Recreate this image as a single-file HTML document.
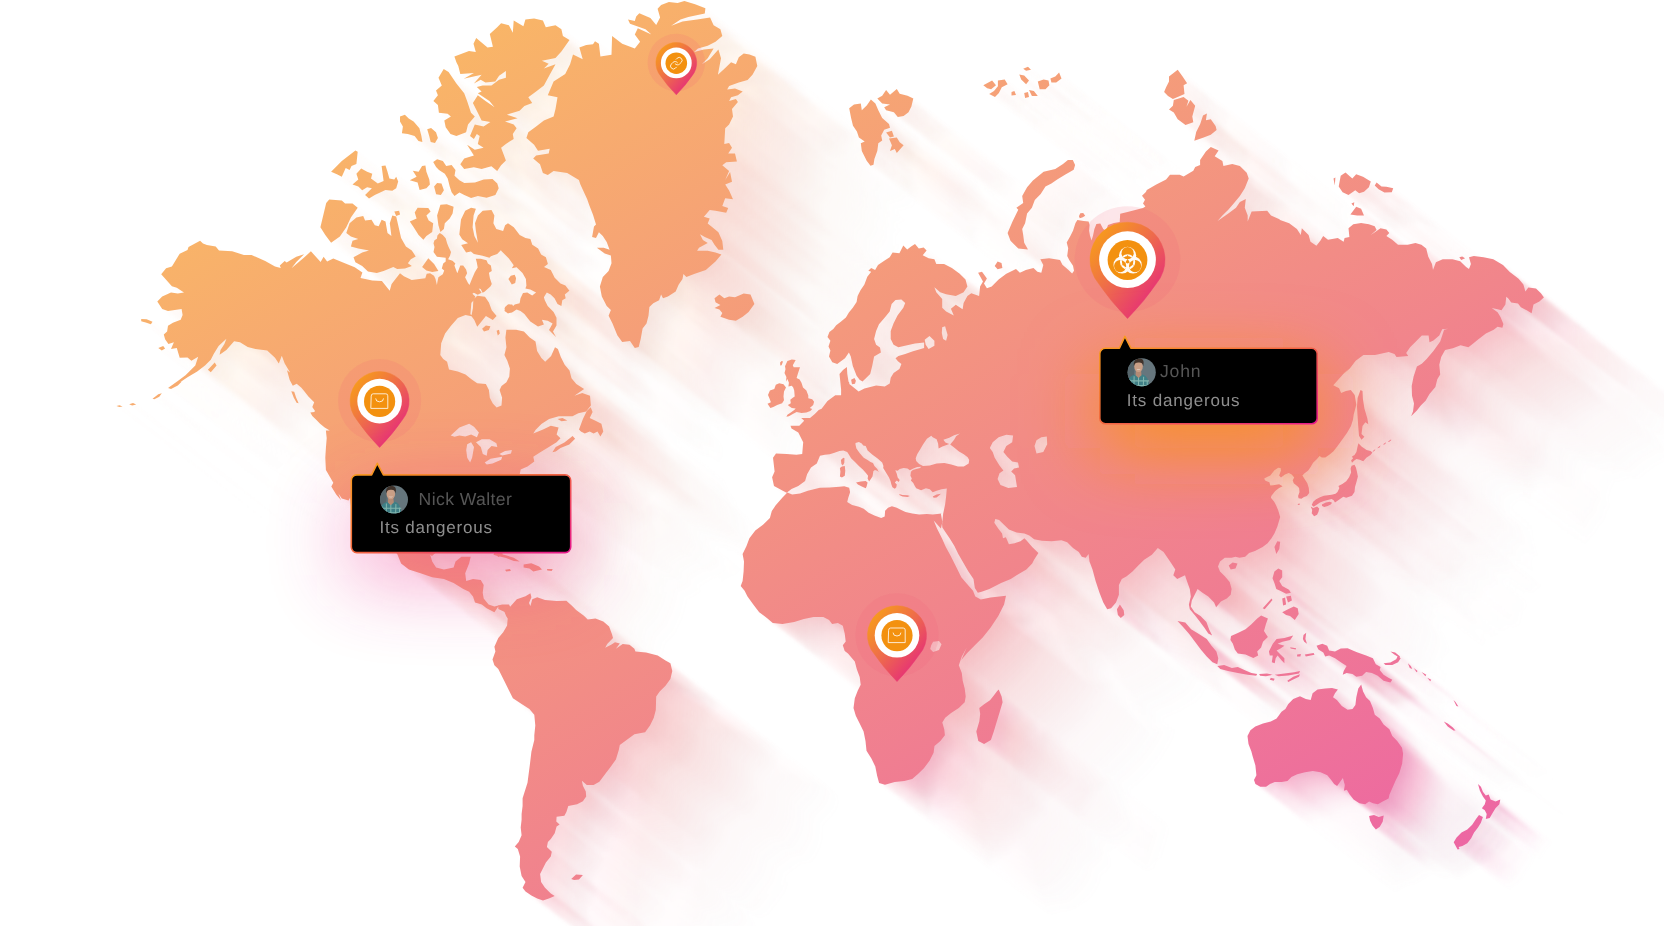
<!DOCTYPE html>
<html><head><meta charset="utf-8"><title>Map</title>
<style>
html,body{margin:0;padding:0;background:#fff;}
body{width:1664px;height:926px;overflow:hidden;position:relative;font-family:"Liberation Sans",sans-serif;}
svg{position:absolute;left:0;top:0;}
</style></head><body>
<svg width="1664" height="926" viewBox="0 0 1664 926">
<defs>
<linearGradient id="mg" gradientUnits="userSpaceOnUse" x1="122.7" y1="210.4" x2="775.4" y2="1329">
<stop offset="0" stop-color="#f9b766"/><stop offset="0.5" stop-color="#f28c86"/><stop offset="1" stop-color="#ec62a6"/>
</linearGradient>
<filter id="sb" x="0" y="0" width="1664" height="926" filterUnits="userSpaceOnUse"><feGaussianBlur stdDeviation="1.5"/></filter>
<linearGradient id="pg" x1="0.12" y1="0.1" x2="0.8" y2="0.85">
<stop offset="0" stop-color="#f79b1c"/><stop offset="0.5" stop-color="#ee6a4c"/><stop offset="1" stop-color="#e62f78"/>
</linearGradient>
<linearGradient id="tg" x1="0" y1="0" x2="1" y2="1">
<stop offset="0" stop-color="#f9a11b"/><stop offset="0.5" stop-color="#f2673f"/><stop offset="1" stop-color="#e6178c"/>
</linearGradient>
<filter id="g1" x="-100%" y="-300%" width="300%" height="700%"><feGaussianBlur stdDeviation="42"/></filter>
<filter id="g2" x="-100%" y="-300%" width="300%" height="700%"><feGaussianBlur stdDeviation="38"/></filter>
<clipPath id="av1"><circle cx="394.0" cy="499.6" r="14.0"/></clipPath>
<clipPath id="av2"><circle cx="1141.7" cy="372.3" r="14.1"/></clipPath>
<g id="avatar">
<rect x="-15" y="-15" width="30" height="30" fill="#66767d"/>
<path d="M-15,-15H-6L-9,15H-15Z" fill="#56666c"/>
<g transform="translate(0.3,2.2) scale(1.16)">
<path d="M-14.5,15C-14,5 -10.5,1 -6,0L0.5,0C5,1.5 6.5,6 6,15Z" fill="#3f7f86"/>
<path d="M-11,15L-10.5,4M-7,15L-6.8,1.5M-3,15L-3,1M1,15L1.4,2M4.5,15L4.5,5M-14,5.5H6M-14.5,9.5H6.3M-14.5,13.2H6" stroke="#a5d3c3" stroke-width="0.9" opacity="0.65"/>
<path d="M-5.2,-3.5L-0.8,-3.5L-0.4,0.6L-3,3L-5.6,0.6Z" fill="#b48a74"/>
<ellipse cx="-3" cy="-6.8" rx="3.7" ry="4.7" fill="#c99f86"/>
<path d="M-7,-7.4C-7.8,-12.6 -4,-14.2 -1.8,-13.7C1.4,-13.6 1.9,-10.8 1.1,-7.2C0.7,-9.8 -0.6,-10.6 -3.2,-10.4C-5.4,-10.4 -6.4,-9.4 -7,-7.4Z" fill="#40322a"/>
<path d="M-4.9,-4.6Q-3,-3.1 -1.1,-4.6Q-3,-4 -4.9,-4.6Z" fill="#f4ece6"/>
</g>
</g>
<linearGradient id="sgB" gradientUnits="userSpaceOnUse" x1="122.7" y1="210.4" x2="775.4" y2="1329">
<stop offset="0" stop-color="#f7a366" stop-opacity="0.85"/><stop offset="0.5" stop-color="#f0777c" stop-opacity="0.97"/><stop offset="0.65" stop-color="#ee6d87" stop-opacity="1"/><stop offset="0.9" stop-color="#eb5b9a" stop-opacity="0.2"/><stop offset="1" stop-color="#ea54a2" stop-opacity="0.05"/>
</linearGradient>
<linearGradient id="sgA" gradientUnits="userSpaceOnUse" x1="122.7" y1="210.4" x2="775.4" y2="1329">
<stop offset="0" stop-color="#f7a366" stop-opacity="0"/><stop offset="0.3" stop-color="#f3897a" stop-opacity="0.1"/><stop offset="0.5" stop-color="#f0777c" stop-opacity="0.27"/><stop offset="0.62" stop-color="#ee6f85" stop-opacity="0.39"/><stop offset="0.88" stop-color="#eb5c99" stop-opacity="1"/><stop offset="1" stop-color="#ea54a2" stop-opacity="1"/>
</linearGradient>
<path id="land" d="M481.6,74.8 473.9,83.6 480.7,79.7 485.5,82.6 495.3,81.6 499.1,75.8 505.9,71 505.9,77.8 499.1,79.7 491.4,85.5 482.6,85.5 476.8,87.1 481.6,91.4 477.8,93.3 489.4,101.1 494.3,106.9 485.5,101.1 477.8,95.3 472.9,103 477.8,112.8 481.6,120.5 490.4,122.1 483.6,126.4 474.8,124.4 470,136.1 473.9,139 476.8,134.1 479.7,136.1 477.8,143.9 483.6,147.7 474.8,149.7 467.1,144.8 473.9,155.5 464.2,158.4 460.3,164.3 464.2,169.1 473.9,167.2 481.6,169.1 491.4,166.2 497.2,171.1 501.1,165.2 505.9,160.4 501.1,147.7 505.9,143.9 513.7,139 512.8,134.1 516.6,128.3 513.7,124.4 505,121.5 517.6,118.2 506.9,114.7 519.6,110.8 524.4,105.9 532.2,103 528.3,97.2 536.1,91.4 543.9,85.5 549.7,74.8 555.5,64.2 543.9,68.4 548.7,63.8 541.9,60.7 555.5,57.9 561.4,51.5 569.5,39.9 562.9,36 561.4,29.2 555.5,25.3 545.8,27.2 542.9,20.4 534.1,18.5 525.4,19.4 523.4,26.2 513.7,20.4 512.8,32.7 508.9,25.3 501.1,23.3 497.2,27.2 489.8,34 492.9,46.7 487.5,47.6 476.2,37.9 473.5,43.7 475.8,52.1 469,50.9 454.4,56.4 456.4,62.2 458.3,66.1 460.3,73.9 473.9,72.9 463.8,78.7 468,77.8ZM447.6,113.7 450.9,116.6 444.3,120.5 445.7,127.3 450.5,134.1 456.4,136.1 466.1,132.2 468,124.4 474.8,116.6 471,112.8 467.1,101.1 464.2,93.3 456.4,83.6 448.6,71.9 443.7,69 438.5,77.8 441.8,85.5 436,90.4 437.9,95.3 433.4,101.1 437.9,105 438.9,112.8ZM421.4,136.1 419.4,128.3 413.6,121.5 408.7,118.6 404.9,114.7 400,116.6 400,121.5 402.9,126.4 401.9,133.2 407.8,134.1 414.6,136.1 418.5,140.9 422.4,141.9ZM429.2,136.1 430.7,141.9 435,142.9 437.9,138 436,132.2 431.1,127.9 427.2,129.3ZM355.4,150.4 341.8,161.1 331.1,171.8 336.9,174.3 341.8,176.7 345.7,167.9 349.6,169.9 351.5,166 356.4,164 357.7,151.8ZM422.1,166 418.6,171.8 412.8,170.8 416.6,176.7 409.8,180.2 417.6,182.5 419.6,189.9 426.4,188.3 429.9,184.4 429.3,179.6 426.4,171.8 425.4,165.4ZM459.4,192.6 464.3,195.1 471.1,198 477.9,196.1 486.6,197.7 495.4,195.1 498.7,188.3 497.3,183.5 492.5,179 483.7,179.6 475,182.5 464.3,182.9 459.4,180.2 454.5,175.7 455.5,169.9 451.6,165 446.2,166 442.9,161.1 437.1,159.2 433.2,162.1 436.1,166.9 439,169.9 444.8,173.7 447.7,178.6 449.7,186.4 451.6,192.2 454.5,196.1ZM385.5,189.9 392.3,190.7 396.2,188.3 398.2,181.5 396.2,176.7 394.3,179.6 389.4,178.6 387.5,171.8 385.5,165.4 381.6,166 383.6,180.9 377.8,183.5 371,178.6 372.3,173.7 367.1,171.8 361.2,168.5 356.4,173.7 358.3,179.6 352.5,184.4 358.3,186.4 362.2,190.3 367.1,187.3 371.9,188.3 365.1,195.1 369,198.4 374.8,195.1ZM440.9,195.1 443.9,190.3 441.5,183.5 437.1,182.9 434.1,186.4 436.1,194.2ZM394.3,211.6 396.2,215.9 400.1,214.6 399.1,210.7ZM446.8,204.3 440.4,204.8 437.1,215.5 438.4,225.3 440.4,232.1 443.9,229.1 444.8,223.3 449.7,218.5 452.6,213.6 453.6,206.8ZM345.1,203.5 341.8,200.4 329.2,199.6 326.2,202.9 320.4,227.2 325.3,235 331.1,242.8 339.9,236.5 346.3,227.2 350.9,217.5 357.7,207.8 352.5,203.5ZM426.4,215.5 430.6,211.6 428.3,208.1 417.6,207.8 414.7,212.6 416.6,218.5 409.8,221.4 413.7,227.2 418.6,235 423.4,239.8 426.4,235.9 432.2,232.1 433.2,223.3 428.7,220.4ZM353.5,257.3 355.4,262.2 362.2,266.1 368,271.5 376.8,272.9 383.6,270.9 393.3,267.1 397.2,269 405,268.4 411.8,266.1 407.9,263.2 410.8,259.3 415.7,256.4 411.8,250.5 405.9,246.6 401.1,237.9 398.2,225.3 396.2,216.5 392.3,215.5 389.8,223.3 391.4,235.9 387.5,233 385.5,221.4 381.6,219.8 378.7,226.2 374.8,225.3 371.5,219.8 365.1,220.4 363.2,215.9 356.4,217.5 349.6,223.3 346.3,233 350.9,236.5 358.3,238.9 352.5,240.8 350.9,246.6 358.3,248.6 369,250.5 362.2,252.5ZM432.2,271.9 438.4,270.9 434.1,264.1 428.3,258.3 422.1,267.1 426.4,270.4ZM511.8,284.5 515.2,283 516.1,278.2 514.7,274.8 510.8,275.7 508.4,279.1ZM504.9,307.7 504.4,308.3 504.8,308.9 504.5,310.9 507.1,312.8 507.3,313.2 507.6,313.1 507.9,313.4 509.3,312.9 512.2,312.6 512.5,312 512.8,311.9 516.6,309.5 520.5,310.9 524.4,313.9 527.3,317.7 530.3,321.6 538,326.5 543.9,324.5 541.9,319.7 547.7,320.7 552.6,323.6 549,330 556,337 553,331.6 556.5,325.5 556.5,317.7 553.6,311.9 547.7,306.1 544.8,300.3 543.9,297.3 546.8,292.5 550.7,294.4 554.5,298.3 557.5,304.1 561.4,306.1 562.3,300.3 565.7,298.3 564.8,294.4 569.6,290.5 569.2,290.4 565.4,285.5 560.5,283.6 554.7,277.7 550.8,270 544,267.1 547.9,264.1 545.9,257.3 541.1,254.4 538.1,248.6 532.3,244.7 530.4,238.9 525.5,237.9 519.7,235 513.8,227.2 508,223.3 505.1,225.3 503.1,231.1 496.3,229.1 493.4,223.3 494.4,215.5 491.5,210.1 482.7,210.7 477.9,215.5 475,223.3 475.9,231.1 477.9,242.8 474.4,235.9 472.6,227.2 473.6,215.5 475.9,208.7 471.1,207.8 465.2,210.7 461,219.4 461,219.4 459.3,234.4 462.2,239.3 468,243.2 461.2,245.1 466.1,252.4 470.9,251.4 473.9,253.9 482.6,255.8 489.4,257.8 490.9,256.3 497.2,253.9 501.1,250 501.1,250.7 508.9,258.5 513.7,265.3 511.8,268.2 516.6,267.2 522.5,273 525.9,278.9 526.4,285.7 525.4,288.6 530.3,289.6 536.1,292.5 532.2,295.4 527.3,292.5 523,293 520.5,298.3 519.6,303.2 514.7,304.6 513.1,305.9 512.2,304.4 509.8,304.6 508.9,304.1 508,304.8 507.3,304.8 506.3,306.1 505,307.1ZM496.6,316.1 491.8,310.3 488.9,302.5 485,296.7 477.2,295.7 474.4,298.5 475.3,296.6 472.4,293.7 473.9,292.7 477.7,294.7 481.6,292.7 478.7,288.4 480.7,288.9 482.6,292.7 484.5,291.8 490.4,286.4 491.8,284 489.9,278.2 488.9,272.8 491.8,270.9 490.9,265.5 487.9,263.6 486.5,260.2 480.7,258.7 475.8,258.7 476.8,262.6 477.7,267.5 474.8,272.3 471.9,279.1 469.5,285 468,283 465.1,277.2 467.1,273.3 466.1,269.4 463.2,265.5 460.3,265.5 457.3,273.3 454.4,265.5 455.4,263.6 452.5,260.7 448.1,259.2 450,255.8 451,251.9 448.6,247.1 447.1,243.2 445.7,238.3 442.8,234.9 439.8,233 437.4,235.4 436.9,238.8 434.5,240.3 433.5,243.2 434.5,247.1 433.5,251.9 436.9,256.8 445.7,257.8 445.7,261.6 443.2,263.6 441.8,268.4 444.2,270.4 442.8,274.3 438.4,277.2 437.4,282.1 436.9,285 435.5,279.1 434,275.7 430.1,273.3 426.7,273.8 425.3,278.2 419.4,279.1 411.7,280.1 403.9,276.2 400,273.3 391.6,283.9 389.7,290.7 381.9,281 372.2,280.4 360.5,278 362.4,272.6 354.7,267.3 343,262.5 333.3,258.6 327.1,261.5 323.6,256.7 320.6,262.1 310.9,251.2 304.1,257.6 291.5,268.3 296.3,262.1 304.1,254.3 296.3,256.7 286.6,262.5 284.7,260.9 279.8,265.4 280.8,267.9 275,266.4 265.2,260.9 251.6,255.1 243.9,255.1 232.2,251.2 219,250.4 215.7,246.5 206.9,245 203,243.4 200.1,240.7 188.5,246.9 187.5,249.9 179.7,253.7 171.9,266.4 166.1,268.3 161.2,274.2 171.9,286.2 176.8,287.8 184,292.6 177.8,293.6 171,292.6 162.2,296.5 157.3,301.4 162.2,309.1 168,311.1 181.6,309.1 182.6,315 180.7,319.8 172.9,322.8 168,325.7 167.1,331.5 163.8,334.4 165.1,339.3 168.4,344.1 173.9,342.2 171,349 176.8,348 179.7,357.7 187.5,357.4 191.4,360.7 198.2,356.8 195.3,365.5 185.5,375.2 177.8,381.1 168,387.9 168.1,387.9 168,387.9 171,389.1 177.8,385.6 181.6,381.7 180.5,382 187.5,377.2 197.2,371.4 205,365.5 210.8,359.7 213.7,353.9 218.6,346.1 226.4,338.7 224.4,344.1 220.5,350 219.6,354.8 226.4,350 234.1,341.2 240,342.2 247.7,347.1 255.5,349 267.2,350.4 275,357.7 278.8,363.6 281.8,355.8 284.7,363.6 289.5,371.4 290.1,372.5 287,370.2 289.7,379.9 292.8,385.7 296.7,383.8 301.4,387.7 304.5,391.6 308.4,396.4 314.2,402.3 312.3,407.1 315,411 314.2,412 310.3,412.6 312.3,415.9 316.2,419.8 320.1,423.7 324.7,427.5 329.8,430.5 325.9,430.5 326.7,438.2 325.9,448 325.3,457.7 325.9,469.9 333.3,482.8 331.3,486.6 336.2,494.4 341.1,500.2 338.4,493.4 341.8,498.5 348.6,500.4 350.2,497.5 352,516 362,531 374,543 378,541 373,531 366,516 358,501 352,489 356,489 363,501 373,521 386,541 397.2,553.9 401.1,563.6 408.9,569.4 420.5,573.3 432.2,577.2 443.9,579.1 453.6,583 463.3,588.9 469.1,591.8 473,596.6 475,602.5 481.8,604.4 486.6,608.3 494.4,612.2 498.3,606.4 498.3,606.4 498.3,608.9 504.2,611.8 504.6,612.3 506.1,616.1 507.7,618.6 507.1,625.4 503.2,632.2 498.3,638 494.4,646.8 495.4,651.6 492.5,659.4 494.4,665.3 498.3,669.1 504.2,680.8 509,690.5 512.9,698.3 521.6,704.1 529.4,709 534.3,714.8 535.3,725.5 534.3,735.2 534.3,740 531.4,751.7 529.8,765.3 527.5,782.8 522.6,798.3 522.6,806.1 521.6,813.9 521.6,819.7 520.7,827.5 521.6,835.3 518.7,842.1 514.8,846.5 517.8,848.9 520.1,856.6 519.7,866.4 521.6,876.1 525.5,881.9 522.6,887.7 525.5,891.6 531.4,895.5 537.2,898.4 543,900.4 548.9,898.4 554.7,895.9 550.8,893.6 545,887.7 541.1,881.9 540.1,874.1 543,868.3 545.9,862.5 550.8,856.6 551.8,851.8 546.9,846.9 547.9,842.1 550.8,839.1 554.7,833.3 556.6,826.5 559.6,824.6 556.3,821.6 556.6,816.8 564.4,815.8 566.4,811.9 568.3,806.1 577.1,804.2 582.9,801.2 586.2,796.4 585.8,791.5 582.9,785.7 581.9,780.8 586.8,785.1 593.6,785.1 599.4,781.8 605.2,774 611.1,766.2 615.9,759.4 618.8,749.9 619.8,745 626.6,740.1 634.4,734.3 645.1,732.3 650,725.5 653.8,717.7 655.8,710 656.2,696.4 659.7,691.5 665.5,685.7 670.4,678.9 672.3,671.1 670.4,663.3 665.5,660.4 657.7,655.5 646.1,652.6 635.4,651.6 634.4,648.7 629.5,644.8 622.7,643.9 615.9,648.7 619.8,643.5 615,642.3 611.1,644.8 605.2,647.8 607.2,643.9 613,638 612,634.2 609.1,626.4 603.3,621.5 595.5,618.6 587.7,619.6 583.9,615.7 576.1,609.9 572.2,606 566.4,600.7 556.6,601.1 545,600.1 537.2,597.2 532.3,599.2 530.4,606 529,603 531.4,597.2 530.4,593.3 525.5,596.2 516.8,599.2 510.1,606.7 509,604.4 502.2,604.4 499,605.2 498.3,605 498.3,605.4 494.4,606.4 488.6,604.4 483.7,598.6 482.7,592.8 483.7,585 480.8,580.1 473,579.1 466.2,581.1 465.2,573.3 469.1,563.6 470.7,556.8 461.4,556.8 455.5,561.6 453.6,567.5 443.9,569.4 436.1,567.5 432.2,561.6 430.2,554.8 432,556 441,548 455,540 470,537 485,535 492,541 496.6,553.3 494.4,552.9 493.4,554.8 497.6,556 498,557 499.9,556.6 506.1,558.1 513.8,561.1 519.7,561.6 513.8,557.8 504.1,554.8 502.7,554.6 500,543 495,528 499,514 509,503 516,488 519.7,474.3 520.7,469.4 527.5,466.5 534.3,461.6 533.3,456.8 539.1,452.9 548.9,447.1 556.6,442.2 560.5,438.3 556.6,434.4 558.6,427.6 550.8,425.7 543,429.6 533.3,433.5 535.5,430 541.4,424 549.1,419.1 558.8,416.2 572.5,416.2 578.3,413.3 586.1,411.4 590.9,405.5 590,395.8 582.2,392.9 574.4,395.8 584.1,389 576.3,384.1 571.5,378.3 569.5,370.5 564.7,364.7 560.8,356.9 557.9,349.1 555,347.2 551.1,355.9 545.2,361.8 541.4,357.9 537.1,351.1 535.5,341.4 529.7,337.5 523.9,331.6 516.1,329.7 506.4,329.7 505.4,337.5 506.4,347.2 504.4,355 507.3,360.8 509.9,368.6 509.3,376.4 506.4,382.2 501.5,386.1 499.6,390 502.1,397.7 501.5,405.5 496.6,407.5 492.8,403.6 489.8,397.7 488.9,390 485.9,384.1 477.2,383.2 471.4,379.3 465.5,374.4 457.8,371.5 449,369.6 447.1,361.8 443.2,358.9 440.3,355 441.2,343.3 445.1,333.6 451,325.8 457.8,318 465.5,315.1 471.5,316.3 474.3,320 477.2,326.8 481.1,321.9 485.9,316.1 492.8,320ZM471.9,302.5 473.3,300.4 472.9,308.3 471.6,314.9 470.4,314.2 471.4,302.5ZM459.4,435.4 454.6,436.8 450.7,435.4 459.4,427.6 469.2,423.7 474,426.7 478.9,432.5 476.9,437.3 471.1,434.4 465.3,436.4ZM482.8,453.9 480.8,447.1 476,442.2 481.8,439.3 489.6,439.3 496.4,443.2 497.3,447.1 491.5,446.1 487.6,450 486.7,455.8ZM470.1,462.6 467.2,457.8 466.2,450 467.2,444.2 471.1,442.2 474,447.1 472.1,457.8ZM511.9,450 511,453.5 502.2,455.4 499.3,453.9 505.1,451ZM492.5,463.6 486.7,464.6 484.7,462.6 490.5,458.7 502.2,456.8 501.2,459.7ZM145.7,322.4 150.9,324.3 152.5,321.8 146.7,319.3 141.2,318.9 141.2,321.2ZM490.4,326.2 485.9,325.4 482.1,328.7 484,331.6 488.9,330.1ZM496.6,330.7 497.8,335.5 499.8,333.6 499,329.7ZM158.3,348 161.8,350.4 165.1,348.4 163.2,346.1ZM207.9,369.8 210.8,372.3 216.6,365.5 214.7,362.6ZM161.8,393.3 158.3,394.3 152.5,398.8 154.4,399.2 159.3,396.8ZM296.6,402.8 298.6,403.3 296.1,397.5 294.2,391.7 291.3,391.2 293.7,397.5ZM129.2,404.2 132.1,405.4 136.2,404.6 133,403ZM116.5,406 119.4,407.1 122.6,406.4 119.4,405.2ZM510,569 505.1,569.8 506.1,571.4 510.9,571ZM1029,80.4 1024.2,75.6 1019.3,74.6 1021.2,79.4 1026.1,84.3ZM996,85.3 992.1,80.4 983.3,85.3 987.2,88.2 991.1,89.2ZM1004.7,79.4 997.9,80.4 997.9,86.2 994,91.1 989.2,94 995,96.9 998.9,93 1001.8,87.2 1007.6,84.3ZM1011.5,92.1 1011.5,95.4 1016,95 1014.4,91.1ZM908.5,112.2 911.4,106.4 913.3,98.6 907.5,95.7 899.7,93.7 896.8,88.9 890,94.7 886.1,89.9 882.2,95.7 877.3,98.6 882.2,103.5 890,104.4 884.2,107.3 886.1,110.3 893.9,112.2 897.8,117.1 903.6,116.1ZM866.7,160.8 870.5,165.7 873.5,164.7 874.4,158.9 877.3,151.1 878.3,143.3 882.2,140.4 881.2,135.5 884.2,129.7 890,127.8 889,123.9 882.2,118 878.3,110.3 875.4,103.5 870.9,99.6 866.7,105.4 861.8,110.3 860.8,103.5 854,104.4 849.2,108.3 851.1,118 853,125.8 856.9,131.6 858.9,137.5 864.7,141.4 860.8,143.3 861.8,151.1ZM886.1,132.6 890,137.5 893.9,136.5 891.9,130.7ZM889,138.5 891.9,145.3 890,151.1 894.8,149.1 896.8,153 903.6,145.3 899.7,142.3 896.8,137.5ZM555.5,108.9 553.6,116.6 543.9,120.5 536.1,126.4 528.3,132.2 526.4,138 534.1,144.8 538,150.7 549.7,148.7 548.7,153.6 536.1,155.5 533.2,158.4 540,164.3 542.9,173 547.8,175 553.6,171.1 567.2,173 578.9,180 580.4,184.6 587.2,199.2 589.2,205 593,214.7 596,224.4 594,226.4 592.1,237.1 596,238 598.9,232.2 602.8,236.1 606.7,241.9 609.6,249.7 603.7,247.8 596.9,247.8 604.7,253.6 610.9,255.5 611.5,263.3 608.6,271.1 602.8,276.9 599.9,286.6 601.8,296.4 606.7,306.1 610.9,310 608.6,315.8 612.5,323.6 617.3,335.2 622.2,342 630,341.1 634.8,347.9 638.7,346.9 640.7,339.1 642.6,328.4 646.5,323.6 648.5,315.8 649.4,307.1 653.3,303.2 659.1,300.2 661.1,294.4 663,298.3 667.9,296.4 675.7,291.5 678.6,284.7 682.5,278.9 683.4,274 686.4,276.9 694.1,274 705.8,270.1 715.5,261.4 721.4,254.6 715.5,252.6 707.7,250.7 697.1,250.7 699,247.8 707.7,242.9 702.9,240 700,234.2 704.8,237.1 711.6,240 714.5,244.8 718.4,249.7 723.3,249.7 722.3,241 718.4,232.2 713.6,228.3 707.7,223.5 709.7,218.6 703.9,216.7 709.7,209.9 715.5,210.8 726.2,212.8 728.2,207.9 722.3,206 725.2,198.2 733,199.2 729.1,190.4 725.2,184.6 732,181.7 730.1,171.9 725.2,180 729.1,171.1 722.3,165.2 726.2,162.3 736.9,161.4 735,153.6 728.2,153.6 732,147.7 729.1,142.9 724.3,143.9 725.2,128.3 729.1,124.4 733,116.6 732,108.9 737.9,102.1 735.9,99.1 729.1,101.1 731.1,97.2 737.9,95.3 742.7,91.4 735,88.5 727.2,89.4 729.1,85.9 738.8,82.6 747.6,80.1 752.5,74.8 757.3,66.1 755.4,56.8 749.5,54.4 743.7,53.5 738.8,57.3 735.9,64.2 731.1,62.2 725.2,68 717.9,74.8 721,58.3 718.4,49.6 709.7,59.3 701.9,64.2 707.7,58.3 713.6,48.6 703.9,49.6 694.1,52.1 698,48.6 707.7,45.7 715.5,41.8 722.3,36 720.4,29.2 713.6,25.3 710.1,17.5 697.1,19.4 682.5,21.4 671.2,25.7 680.5,19.4 688.3,17.1 704.8,13.6 705.4,8.2 695.1,4.3 684.4,1 677.6,2.9 668.9,1.9 661.1,4.9 657.6,8.7 660.1,17.5 656.2,24.9 650.4,17.9 639.3,13.2 636.2,16.5 634.8,21 628,19.4 630,23.7 645.5,29.2 651.4,34.6 637.8,28.2 634.8,34.6 640.1,41.8 634.8,48.6 622.2,43.7 612.1,36 611.5,54.8 600.4,56.4 598.9,43.7 595,41.2 593,44.3 586.2,45.1 579.4,47.6 582.7,59.3 573,54.4 570.1,64.2 565.2,73.9 553.6,81.6 547.8,95.3 557.5,97.2ZM1001.5,263 997.6,261.5 994.7,266 997.6,269.3 1002.4,267.9ZM735.9,320.7 742.7,316.8 748.6,311.9 754.4,304.1 750.5,294.4 743.7,293.4 735,297.3 729.1,296.4 724.3,298.3 719.4,294.4 714.5,298.3 715.5,302.2 720.4,305.1 714.5,308 719.4,309.6 722.3,312.9 720.4,316.8 729.1,319.7ZM783,361.6 781.6,360.9 780.1,362.4 780.3,365.5 781.6,365.3ZM855.9,380.8 854.5,377.9 851.1,379.8 852,384.2 855,383.7ZM848.5,381.4 847.3,373.9 846.9,367.1 843,370 839.5,373.9 840.1,379.7 841.1,389.4 841.1,395.2 835.3,395.2 827.5,401.1 821.6,408.8 818.7,410.1 814.8,414 810,417.9 801.2,417.9 804.2,420.8 799.3,425.7 790.5,425.7 791.5,428.6 798.3,432.5 803.2,442.2 802.2,453.9 796.4,454.8 786.7,453.9 776,453.5 773,457.8 774.6,471.4 772.1,477.2 774,485.9 782.8,490.8 786.7,492.8 791.5,488.9 798.3,485.9 805.1,481.1 807.1,474.3 811,467.5 816.8,463.6 820,455.8 824.9,454.8 829.7,454.3 834.6,452.8 839.4,450.9 843.3,450.4 847.2,451.9 848.7,454.3 851.1,458.2 855,462.1 858.9,466 862.8,469.4 865.7,472.8 868.1,475.7 867.6,478.6 869.1,481.5 870.5,479.6 872.5,476.6 873,473.7 873.3,471.3 874.9,470 877.3,470.8 878.8,472.3 877.3,468.9 874.4,466 873,463 870.5,462.1 867.6,460.1 863.7,457.7 859.8,453.3 856.4,448.5 855.5,444.6 855.5,443.1 858.9,442.1 861.8,443.6 863.2,445.5 865.7,446 867.6,450.4 872.5,454.8 877.3,458.2 882.2,462.6 883.4,466 883.2,467.9 886.1,472.8 889,477.6 890.5,481 891.4,484.4 892.4,487.3 894.8,488.8 896.3,487.3 896.8,484.4 894.8,482.5 896.8,480.5 898.7,482 899.7,480 897.7,477.6 896.8,473.7 895.3,470.3 897.7,470.8 899.7,468.9 903.6,467.9 907.5,468.4 909.9,470.3 911.4,469.4 913.3,468.4 917.2,467.1 921.1,466.7 920.1,468.1 916.2,468.9 912.8,470 910.9,471.8 910.4,475.7 911.8,478.6 910.9,480.5 913.3,483 914.8,485.9 916.2,488.3 921.1,490.3 925.9,488.3 929.8,489.3 932.7,492.2 936.6,490.7 941.5,489.3 946.8,488.5 946.1,496.6 945.1,504.4 943.1,514.1 942.2,523.9 942,523.1 942.3,521.8 940.9,514 941.5,513.6 932.8,514.6 926.9,514 919.2,514.6 912.3,513.6 905.5,512.1 900.7,509.7 896.8,507.8 891.9,506.2 888,507.8 885.1,510.7 884.7,516.5 881.2,517.9 874.4,515.6 868.6,512.7 863.7,508.8 858.9,506.8 852.1,504.9 847.2,502 848.2,498.1 850.1,492.2 849.2,487.8 844.3,486.2 839.4,486.8 829.7,487.4 820,487.8 807.8,490.7 800,493.6 792.2,494.6 787.3,492.6 782.5,497.5 775.7,505.3 771.8,511.1 769.9,517.9 763,524.7 755.3,530.5 749.4,538.3 746.5,546.1 742.6,553.9 744,561.6 743.6,571.4 742.6,581.1 740.7,585.9 744.6,590.8 747.5,596.6 753.3,604.4 759.2,612.2 766.9,618 772.8,622.9 782.5,623.9 794.2,621.9 803.9,619 813.6,617.1 823.3,617.1 829.1,620 832.1,623.9 837.9,622.9 842.8,625.8 844.7,633.6 845.7,641.4 842.8,645.2 844.7,651.1 848,653.6 854.8,661.4 856.8,669.2 859.7,676.9 860.7,684.7 857.8,690.5 854.8,698.3 853.5,708 855.8,715.8 859.7,723.6 863.6,731.4 865.5,741.1 866.5,750.8 871.4,758.6 875.3,766.4 877.2,776.1 879.1,782.9 885,784.8 894.7,781.9 904.4,780.9 912.2,779 918,774.1 923.9,768.3 929.7,760.5 933.6,752.8 934.5,745.9 940.4,741.1 944.9,735.3 944.3,729.4 942.3,722.6 945.2,717.8 951.1,712.9 958.8,708 964.7,702.2 965.7,696.4 964.7,688.6 962.7,680.8 961.8,673 958.8,665.3 961.8,656.5 966.6,647.8 961.3,660 967.2,653 974.9,645.2 982.7,637.5 990.5,627.7 998.3,616.1 1004.1,604.4 1006,595.7 990.5,597.6 980.8,599.6 975.3,596.6 973,590.8 966.2,583 961.3,577.2 955.5,565.5 950.6,555.8 945.8,547.1 941.9,538.3 937,528.6 933.7,520.4 940.9,528.6 942,523.4 942.4,527.6 945.7,532.5 949.6,538.3 954.4,546.1 958.3,553.9 963.2,562.6 968.4,571.4 973.5,579.1 974.8,587.9 977.8,592.8 981.6,591.8 989.4,588.9 1001.1,583 1010.8,579.1 1016.6,575.3 1026.4,569.4 1032.2,563.6 1034.1,559.7 1038.4,552.9 1032.2,547.1 1026.4,540.3 1024.4,538.3 1020.5,541.2 1014.7,543.2 1008.9,544.2 1005.9,537.3 1003,538.3 1002.1,533.5 998.2,528.6 994.3,522.8 995.3,518.9 999.1,519.9 1004,524.7 1008.9,529.6 1016.6,532.5 1024.4,533.5 1029.3,535.4 1034.1,539.3 1041.9,540.7 1051.6,541.2 1061.4,540.3 1067.2,542.2 1073,548 1078.8,551.9 1081.8,556.8 1085.7,557.8 1088.6,553.9 1089.5,561.6 1092.5,569.4 1095.6,581.1 1099.5,592.8 1103.3,602.5 1107.2,609.3 1111.1,608.3 1116,602.5 1118.9,594.7 1118.9,585 1121.8,579.1 1126.7,576.2 1132.5,571.4 1138.3,565.5 1144.2,559.7 1151.9,554.8 1157.8,548 1163.6,551.9 1167.5,557.8 1171.4,563.6 1175.3,569.4 1173.3,575.3 1177.2,579.1 1185,575.3 1186.9,581.1 1189.8,588.9 1190.8,596.6 1188.9,604.4 1189.8,609.3 1194.7,615.1 1198.6,620 1204.4,627.7 1208.3,633.6 1212.2,635.5 1209.3,629.7 1206.4,621.9 1200.5,616.1 1194.7,612.2 1190.8,606.4 1191.8,600.5 1194.7,594.7 1197.6,588.9 1202.5,592.8 1208.3,596.6 1214.1,602.5 1216.1,607.3 1220.9,601.5 1226.8,598.6 1230.7,594.7 1231.6,588.9 1229.7,582.1 1224.8,576.2 1220,571.4 1218,566.5 1220,561.6 1224.8,557.8 1231.6,557.8 1235.5,556.8 1239.4,557.8 1245.2,556.8 1249.1,552.9 1255,551 1262.7,547.1 1267.6,543.2 1271.5,538.3 1274.4,533.5 1277.3,526.7 1280.2,516.9 1278.3,511.1 1279.9,515.5 1278.1,510.1 1276.2,505.6 1274.2,501.7 1270.9,497.8 1271.3,495.9 1275.2,491 1279.1,488.1 1282.6,486.2 1279.1,484.2 1273.2,485.2 1270.3,485.6 1269.4,482.3 1265.5,480.7 1264.1,478.8 1266,477.4 1270.3,475.5 1274.2,470.6 1278.1,467.7 1280.6,468.1 1281,470.6 1279.1,475.5 1281,477.4 1284.9,474.5 1288.8,472.9 1291.7,474.5 1294.2,477.4 1292.7,480.3 1293.7,483.3 1297.5,486.2 1299.1,488.1 1299.5,492 1298.1,495.9 1298.5,498.2 1301.4,498.8 1304,496.9 1306.9,495.9 1309.2,493 1308.8,488.1 1307.3,483.3 1304.3,478.4 1302.4,475.5 1304.3,473.5 1308.2,470.6 1310.8,466.7 1313.1,462.8 1317,459 1319.5,456 1321.8,457.4 1325.3,457.4 1329.6,454.5 1333.5,451.2 1337.4,446.3 1342.3,439.5 1347.1,432.7 1351,425.9 1352.9,420.1 1353.7,414.4 1356.3,404.7 1354.7,395 1350.8,390.1 1345.9,391.1 1341.1,393 1339.1,388.2 1333.3,385.3 1341.1,376.5 1348.9,367.8 1344,373.4 1349.8,368.6 1355.7,360.8 1363.4,355 1375.1,355 1388.7,352.1 1394.5,354 1396.5,356.9 1408.2,355.9 1406.2,353 1410.1,347.2 1415.9,341.4 1421.8,335.5 1428.6,335.5 1429.5,342.3 1433.4,340.4 1439.3,335.5 1442.2,329.3 1448,328.7 1444.1,329.7 1442.2,335.5 1440.2,341.4 1433.4,351.1 1426.6,358.9 1421.8,363.7 1416.9,366.6 1413.6,376.4 1411.7,386.1 1412,395.8 1414,403.6 1413,411.4 1411.1,416.2 1416.9,410.4 1420.8,405.5 1425.6,400.7 1429.5,393.9 1435.4,387.1 1437.3,379.3 1440.2,374.4 1439.3,364.7 1441.2,356.9 1445.1,350.1 1452.9,348.2 1460.6,345.3 1468.4,347.2 1472.3,344.3 1478.1,339.4 1485.9,333.6 1493.7,329.7 1497.6,326.8 1502.4,327.8 1503.4,323.9 1500.5,317.1 1497.6,312.2 1491.7,307.9 1497.6,309.3 1501.5,310.3 1505.4,304.4 1506.3,296.7 1508.3,298.6 1511.2,302.5 1518,303.5 1520.9,307.3 1526.7,310.3 1531.6,313.2 1533.5,304.4 1539.4,301.5 1543.8,297.6 1543.8,297.2 1540.9,293.3 1536,288.4 1528.3,287.5 1525.4,291.4 1523.4,284.5 1518.6,278.7 1509.8,271.9 1503,265.1 1493.3,259.3 1483.6,257.3 1473.8,256 1469,257.3 1470.9,264.1 1469,269 1466.1,267.1 1460.2,261.2 1452.5,259.3 1442.7,259.3 1435.9,262.2 1433,270 1432,264.1 1428.2,256.4 1426.2,248.6 1421.4,244.7 1415.5,243.1 1407.7,244.7 1398,244.7 1392.2,239.8 1386.4,235.9 1389.3,233 1386.4,229.5 1380.5,228.2 1370.8,235 1376.6,230.1 1374.7,226.2 1368.9,224.3 1361.1,222.9 1353.3,224.3 1348.5,228.2 1349.4,236.9 1344.6,237.9 1343.6,241.8 1337.8,237.9 1328,239.8 1323.2,235.9 1320.3,240.8 1316.4,245.7 1310.5,241.8 1308.6,235 1301.8,228.2 1300.8,235 1296.9,229.1 1289.2,223.3 1279.4,219.8 1280,219.4 1271,215.5 1267.2,210.7 1251.6,211.6 1247.7,221.4 1247.7,215.5 1244.8,207.7 1245.8,199 1239.9,201.9 1236,207.7 1228.3,213.6 1217.6,221 1222.4,215.5 1228.3,209.7 1234.1,202.9 1239.9,196.1 1244.8,188.3 1248.7,178.6 1246.7,172.8 1239.9,165.9 1232.2,164 1223.4,165.9 1222.4,161.1 1214.7,156.2 1218.6,150.4 1210.8,147.1 1205.9,151.4 1200.1,160.1 1200.1,165 1195.2,166.9 1193.3,170.8 1183.6,176.6 1179.7,174.7 1170,174.7 1166.1,179.6 1156.3,184.4 1146.8,190.1 1145.9,191.9 1142,195.8 1145,199.7 1143,203.6 1145.4,206.5 1143,208 1137.2,209.4 1127.5,211.9 1120.2,213.8 1119.7,222.1 1113.9,223 1108,225 1106.1,230.8 1103.2,228.9 1100.3,223.5 1096.4,224 1094.4,228.9 1093,235.7 1091.5,240.5 1090,235.7 1089.1,230.8 1089.6,225 1088.6,221.6 1083.7,221.1 1077.4,220.1 1075.5,223 1073,230.8 1070.1,236.6 1066.7,242.5 1068.2,248.3 1067.2,256.1 1069.2,260 1073,265.8 1074,270.7 1072.1,273.6 1068.2,269.7 1062.4,264.8 1060,260.1 1049.1,258.2 1040.3,259.2 1043.3,265 1041.3,272.8 1037.4,271.8 1033.5,267.9 1025.8,269.9 1019.9,272.8 1016,268.9 1006.3,273.7 998.6,279.6 991.7,286.4 986.9,288.3 984,283.5 986.9,278.6 982,271.8 978.1,272.8 983,281.5 980.1,286.4 979.1,296.1 971.3,293.2 967.4,296.1 963.6,302.9 962.6,309.3 955.8,304.8 950.9,308.7 953.8,315.5 946.1,311.6 942.2,307.8 942.2,299 936.3,292.2 934.4,287.3 940.2,292.2 946.1,294.2 955.8,296.1 963.6,292.2 967.4,286.4 965.5,279.6 959.7,273.7 951.9,267.9 944.1,264 936.3,264 934.4,259.2 928.6,258.2 922.7,255.3 926.6,250.4 923.7,247.5 918.8,248.5 915,244 911.1,246.5 907.2,249.4 903.3,245.6 899.4,253.3 892.6,252.4 889.7,257.2 883.9,261.1 878,265 875.1,269.9 871.2,267.9 868.3,270.8 871.2,271.8 867.3,276.7 864.4,284.4 860.5,290.3 857.6,296.1 856.6,301.9 852.8,307.8 848.9,312.6 845.9,317.5 841.1,321.4 836.2,325.3 833.3,329.1 829.4,332.1 827.5,336.9 830.4,340.8 828.5,346.6 830.4,350.5 829,356.4 832.3,362.2 837.2,364.1 845,358.3 848.9,352.5 850.8,356.4 852.8,366.1 856.6,375.8 859.6,379.7 862.5,381.6 866.4,377.7 870.2,373.9 872.2,366.1 874.1,356.4 880.9,352.5 880,347.6 876.1,344.7 874.1,338.9 876.1,331.1 879,324.3 884.8,317.5 889.7,311.6 891.6,303.9 895.5,300 901.4,299.6 905.2,302.9 903.3,307.8 897.5,315.5 893.6,323.3 890.7,331.1 890.7,338.9 893.6,344.7 898.4,347.2 907.2,345.3 915,343.5 924.1,342.4 924.1,348 920.8,349 913,351.3 905.2,354 898.4,356 895.5,358.3 897.9,361.2 901.4,364.1 899.4,369 893.6,372.9 890.7,377.7 889.7,383.6 884.8,386.5 876.1,385.5 864.4,388.4 858.6,391.4 853.7,387.5 849,383.7 849.6,383.2ZM928.6,349 925.7,344.7 924.7,339.8 929.5,335.9 934.4,340.8 934.4,345.7ZM946.1,340.8 943.1,338.9 941.8,333 942.2,327.2 945.1,326.2 947.6,335ZM1047.2,444.2 1043.3,451.9 1036.5,453.5 1034.5,446.1 1036.5,440.3 1041.3,437.3 1046.8,436.4ZM919.1,464 916.2,461.1 915.7,458.2 917.2,454.3 920.1,449.4 923,444.6 926.9,438.7 931.3,435.8 932.7,437.3 936.6,439.2 938.1,443.6 938.6,448.5 942.4,446.5 949.3,444.1 945.4,442.6 943.4,439.7 949.3,437.8 954.1,435.3 959.9,433.4 956.1,436.3 954.1,439.7 950.2,444.6 954.1,447.5 959,451.4 963.8,454.3 967.7,457.2 969.2,460.1 968.7,463.5 963.8,466.4 958,466.4 951.2,464.5 944.4,463 936.6,463.5 929.8,465.5 923,466ZM999.5,465.5 994.7,457.8 992.7,451.9 989.8,448 992.7,442.2 998.6,437.3 1006.3,434.8 1013.1,435.4 1012.2,442.2 1006.3,446.1 1003.4,451.9 1007.3,456.8 1012.2,461.6 1018,462.6 1019,467.5 1014.1,468.5 1011.2,471.4 1015.1,475.3 1017,486.9 1008.3,487.9 1000.5,485 997.6,479.1 999.5,473.3 1003.4,470.4ZM939,650.1 933.1,652 930.2,649.1 931.2,645.2 933.1,641.7 939,641 941.5,644.3ZM791.8,385.7 793.2,387.6 794.2,390.5 794.7,396.4 792.8,397.8 790.3,399.8 790.8,403.2 787.9,405.1 788.9,406.1 791.8,408 795.7,408.5 794.2,410 790.8,412.4 787.4,414.8 786.4,416.8 788.9,416.3 792.8,413.9 796.6,411.9 801.5,412.9 806.4,412.4 810.3,410.9 812.2,409 809.8,408 813.2,405.1 814.1,401.7 812.2,399.3 808.3,398.3 808.3,395.4 806.4,390.5 803,387.6 801.5,382.8 799.6,379.4 796.6,377.9 798.1,373 800,367.2 793.7,367.2 792.8,365.3 795.7,359.9 791.8,359.4 787.4,360.9 785,366.2 785.5,369.2 784.5,373 786.4,376.9 786,381.8 787.4,378.9 788.9,382.8 788.4,386.6ZM784,400.3 783.5,396.4 784,391.5 786,387.6 783.5,384.2 779.2,383.2 775.8,384.7 774.3,389.1 769.9,390.5 768,394.9 769.4,398.3 770.9,402.2 767.5,403.7 770.4,408 773.3,407.1 777.2,405.1 782.1,403.2ZM557.6,418.9 561.5,421.2 567.3,420.4 562.5,417.9ZM601.4,423.7 595.5,420.8 589.7,417.9 592.6,412.1 590.7,407.2 586.8,411.1 582.9,418.9 579,429.6 580.9,431.5 584.8,433.5 589.7,431.5 593.6,433.5 597.5,431.5 600.4,436.4 603.3,431.5ZM552.4,452.3 555.7,451.5 560.5,448 569.3,444.5 575.1,438.7 572.6,436 564.4,442.6 555.7,447.1ZM842.8,465.5 844.3,463 844.5,458.2 843.3,457.7 840.9,460.1 841.4,464ZM839.9,467.9 840.4,471.8 839.9,476.6 841.9,477.6 844.8,475.7 845.3,470.8 844.8,466 841.9,466.4ZM856,482.5 857.9,484.4 861.8,486.4 865.7,488.3 866.6,486.4 867.6,482.5 865.7,481 860.8,481.5ZM899.7,495.3 902.6,496.6 907.5,497.1 909.9,496.1 907.5,495.3 902.6,494.9 899.2,494.1ZM936.6,497.5 939,495.6 941,493.7 936.6,494.6 932.7,496.6 933.7,497.8ZM523.6,567.5 529.4,568.5 533.3,571.4 542,569.4 539.1,566.5 531.3,563.2 523.6,564.6ZM546.9,569 547.3,570.6 551.7,571 552.7,569ZM976.3,731.4 978.3,741.1 984.1,744 990.9,740.1 993.8,731.4 996.8,721.6 999.7,711.9 1002.6,702.2 1001.6,696.4 998.7,689.6 996.8,691.5 993.8,695.4 990,700.3 984.1,704.2 979.3,708 980.2,713.9 979.3,721.6ZM579,879.6 582.9,875.1 576.1,874.5 571.2,879 574.1,880ZM1023.2,68.7 1026.1,70.7 1031,69.7 1028,66.8ZM1056.2,82.4 1061.5,78.5 1059.1,72.6 1055.3,76.5 1050.4,78.5 1051.4,82.4ZM1045.5,89.2 1049.4,85.3 1048.5,80.4 1043.6,79.4 1037.8,81.4 1039.7,89.2ZM1183.6,85.3 1187.1,83.3 1182.6,76.5 1177.7,69.7 1169,76.5 1169,81.4 1166.1,87.2 1164.1,92.1 1168,96 1172.9,98.9 1177.7,96.9 1184.5,94ZM1029,90.1 1031.9,96 1037.8,96 1033.9,91.1ZM1024.2,93 1025.1,97.9 1029,96.9 1028,92.1ZM1195.2,105.7 1190.4,99.9 1186.5,106.7 1188.4,100.8 1183.6,96.9 1173.8,99.9 1172.9,105.7 1169,109.6 1173.8,112.5 1177.7,119.3 1185.5,125.1 1193.3,122.2 1192.3,116.4ZM1205.9,120.3 1206.9,113.5 1203,115.4 1200.1,124.2 1196.2,131.9 1194.3,140.7 1203,137.8 1210.8,134.8 1216.6,130 1215.6,126.1 1210.8,119.3ZM1027.1,213.6 1031.9,207.7 1034.8,200 1040.7,194.1 1045.5,186.4 1051.4,183.4 1057.2,179.6 1065,174.7 1073.7,169.8 1075.1,165 1072.8,160.1 1067.9,160.1 1063,164 1055.3,168.9 1043.6,171.8 1032.9,180.5 1027.1,187.3 1022.2,196.1 1023.2,202.9 1016.4,207.7 1018.3,209.7 1012.5,221.4 1007.6,233 1010.5,240.8 1018.3,248.6 1028,249.5 1024.2,242.7 1023.2,235 1022.2,229.1 1025.1,223.3ZM1082.8,217.2 1085.2,215.8 1083.2,213.1 1080.3,213.3 1078.9,216.2 1079.8,218.2ZM1297.6,504.1 1298.1,505 1300,504.5 1299.6,503.6ZM1280.2,541.8 1277.3,541.2 1274.4,547.1 1276.3,553.9 1279.3,549ZM1237.5,563.6 1232.6,562.6 1228.7,565.5 1230.7,569.4 1235.5,568.5ZM1289,589.8 1282.2,585.9 1279.3,581.1 1282.2,577.2 1282.2,570.4 1278.3,568.5 1274.4,571.4 1272.5,578.2 1274.4,583 1276.3,588.9 1280.2,590.8 1286.1,593.7 1290.9,592.8ZM1286.1,596.6 1288,602.5 1291.9,600.5 1290.9,595.7ZM1282.2,598.6 1283.1,605.4 1286.1,604.4 1285.1,597.6ZM1262.7,608.3 1264.7,609.3 1272.5,600.1 1271.5,598.6ZM1120.8,618 1124.3,615.1 1123.7,610.2 1119.9,604.4 1116.9,609.3 1117.9,615.1ZM1282.2,612.2 1286.1,615.1 1290,616.1 1294.8,620 1298.7,614.1 1297.7,608.3 1293.8,606.4 1288,609.3ZM1257.2,651.5 1261.1,647.6 1263,641.8 1267.9,636.9 1264,631.1 1265.9,624.3 1267.9,618.5 1261.1,615.6 1257.2,618.5 1251.4,624.3 1245.5,629.2 1237.8,633 1231,636 1230.4,639.9 1232.9,643.7 1234.8,649.6 1237.8,653.5 1245.5,654.4 1253.3,657.9 1258.2,655.4ZM1304.2,641.8 1307,643.7 1305.4,638.9 1306.2,632.7 1303.5,635 1302.9,638.9ZM1218.3,658.3 1216.4,651.5 1211.5,645.7 1206.7,638.9 1198.9,634 1191.1,629.2 1185.3,622.4 1177.5,621 1183.3,627.2 1189.2,634 1195,641.8 1200.8,649.6 1206.7,656.4 1212.5,662.2 1217.3,664.2ZM1290.2,647.2 1290.6,648.6 1295.7,649.6 1296.1,648.2ZM1284.4,663.2 1284.4,658.3 1280.5,654.4 1276.6,650.5 1280.5,648.6 1284.4,645.7 1277.6,643.7 1282.5,641.8 1290.2,639.9 1293.2,635.6 1284.4,637.9 1276.6,638.9 1272.8,643.7 1268.9,651.5 1269.8,655.4 1272.8,655.4 1271.8,662.2 1274.7,663.2 1275.7,658.3 1277.6,655.4 1281.5,660.3ZM1297.1,654.4 1297.1,656.4 1300.4,656.4 1300.9,654ZM1245.5,670.4 1237.8,667.1 1231.9,668 1224.2,665.1 1217.3,666.1 1220.3,669 1228,671 1237.8,672.9 1247.5,674.8 1256.2,675.8 1257.2,673.9 1251.4,672.9ZM1278.6,676.2 1288.3,675.4 1299,673.5 1300,671 1294.1,672.3 1284.4,673.5 1274.7,674.8ZM1272.8,674.8 1266.9,673.5 1259.1,673.9 1260.1,675.8 1265.9,676.2ZM1288.3,682 1292.2,680.1 1299,676.8 1300,674.3 1293.2,676.8 1287.3,680.7ZM1270.8,677.8 1269.8,679.7 1273.7,680.7 1274.7,678.7ZM1335.4,177.6 1333.5,178.6 1334.8,185.4ZM1363,176.7 1356.2,174.3 1352.3,178.6 1345.5,172.4 1340.7,175.7 1338.7,186.4 1342.6,192.2 1348.5,195.1 1355.3,190.3 1359.1,193.2 1364,191.8 1368.9,187.3 1370.8,181.5ZM1374.7,185.4 1378.6,189.3 1384.4,192.6 1391.8,192.2 1393.2,188.3 1386.4,186.8 1381.5,186.4 1376.6,182.5ZM1354.3,202.3 1351.4,203.5 1353.7,206.2ZM1361.1,208.7 1356.2,206.8 1350.4,214.6 1357.2,215.5 1364,215.5ZM1459.3,257.3 1461.2,259.9 1465.1,258.3 1462.2,256.4ZM1362.5,426.1 1365.4,422.2 1368.3,424.2 1367.3,418.3 1364.4,408.6 1362.9,398.9 1362.5,391.1 1360.5,390.1 1357.6,397.9 1357,406.7 1357.6,416.4 1358.2,426.1 1359,435.8 1361.5,439.7 1364.4,436.8 1361.5,433.9ZM1388,441.4 1389,441.9 1391.4,439.9 1390.9,439.4ZM1383.1,444.3 1384.1,444.8 1386.1,443.1 1385.6,442.5ZM1377.3,448.2 1379.3,447.7 1380.7,445.5 1379.3,446.2ZM1372.4,452.1 1374.4,451.1 1375.4,449.2 1373.9,450.1ZM1359.8,459.8 1363.2,461.3 1366.6,457.4 1370.5,455 1372.4,452.6 1370.5,451.1 1366.6,450.1 1361.8,446.7 1358.4,443.3 1357.4,447.2 1356.4,452.1 1354.5,455 1352,456.4 1353,458.4 1351.1,460.3 1352,462.8 1354,460.8 1356.4,458.9ZM1337.5,491.9 1335.5,493.7 1331.6,494.8 1327.7,495.3 1323.9,495.8 1320,497.3 1316.1,499.2 1313.2,501.8 1311.7,505 1313.7,506.8 1317.1,504.4 1320,502.4 1323.9,501 1327.7,499.9 1331.6,498.9 1333.6,500.2 1335,502.6 1337.5,500.7 1340.4,498.7 1343.3,496.8 1346.2,497.7 1349.1,496.8 1352,495.8 1354.5,491.9 1355,487.1 1356.4,482.2 1357.9,476.4 1356.9,471.5 1355.9,467.6 1354.5,464.7 1351.6,465.7 1350.6,468.6 1351.1,472.5 1349.1,477.3 1346.2,481.2 1342.3,484.1 1338.4,486.1 1339.4,488ZM1321.9,504.4 1322.1,506 1324.3,507 1327.7,506 1330.7,504.5 1332.1,502.8 1329.7,501.8 1325.8,502.6ZM1313.2,507.9 1310.7,506.5 1312.2,509.9 1311.7,513.3 1314.1,516.2 1317.1,514.8 1318.5,511.8 1319.2,508.4 1317.1,506.5ZM1396.2,659.3 1390.4,662.6 1383.6,663.2 1385.5,665.1 1392.3,665.1 1398.1,662.2 1400.7,658.3 1399.4,656.9 1400.1,656.4 1395.2,652.5 1390.4,651.5 1394.3,654.4 1397.6,656.6ZM1304.8,654.4 1305.8,656.4 1314.5,654.8 1313.6,652.9ZM1343.7,671 1342.7,674.8 1346.6,672.9 1352.5,673.9 1356.3,676.8 1362.2,675.8 1366.1,671.9 1371.9,672.9 1377.7,675.8 1383.6,680.7 1390.4,682.6 1392.3,679.7 1388.4,677.8 1383.6,674.8 1379.7,670 1380.6,667.1 1375.8,664.2 1372.9,658.3 1366.1,655.4 1356.3,652.1 1347.6,648.2 1340.8,648.6 1335,651.5 1329.1,650.5 1327.2,645.7 1322.3,643.7 1316.5,645.7 1318.4,649.6 1323.3,652.5 1325.2,656.4 1329.1,655.4 1335,658.3 1340.8,662.2 1346.6,666.1ZM1407.9,663.2 1409.8,668 1412.3,669 1410.8,666.1ZM1417.6,671 1413.7,668 1416.6,672.3ZM1426.3,674.8 1421.5,671.9 1425.4,676.2ZM1431.2,679.7 1427.3,677.8 1430.2,681.3ZM1453.5,700.1 1456.5,705.9 1458.4,706.5 1455.5,702.1ZM1453.5,730.6 1455.5,730.6 1452.6,727.3 1447.7,723.4 1443.8,721.5 1447.7,726.4ZM1266.1,786.8 1270,783.9 1274.8,782 1281.6,782 1287.5,781 1291.4,777.1 1297.2,774.2 1305,772.2 1312.8,770.9 1320.5,772.2 1327.3,775.2 1331.2,780 1334.1,783.9 1337.1,785.9 1340,782 1342.9,778.1 1344.8,784.9 1343.9,790.7 1346.8,789.7 1349.7,794.6 1353.6,799.5 1359.4,803.3 1365.2,804.3 1369.1,801.4 1373,803.3 1377.9,804.3 1382.7,801.4 1388.6,798.5 1389.5,794.6 1392.5,787.8 1395.4,781 1399.3,773.2 1402.2,763.5 1403.1,753.8 1402,747.7 1397.2,740.9 1392.3,736.1 1389.4,729.3 1383.6,724.4 1379.7,718.6 1374.8,714.7 1372.9,707.9 1370,701.1 1366.1,697.2 1363.1,691.4 1361.2,684.6 1358.3,688.5 1356.3,697.2 1355.4,705 1352.5,708.9 1347.6,709.8 1341.8,705.9 1336.9,700.1 1333,697.2 1335,693.3 1337.9,689.4 1332,687.9 1325.2,688.5 1317.5,689.4 1312.6,693.3 1310.7,700.1 1305.8,699.1 1300,696.2 1293.2,699.1 1288.3,704 1285.4,708.9 1281.5,711.8 1276.6,718.6 1270.8,721.5 1263,723.4 1255.3,726.4 1250.4,730.2 1247.5,736.1 1248.5,743.9 1251.4,751.6 1252.5,755.7 1255.4,765.4 1256.4,775.2 1254,780 1255.4,783.9 1260.3,786.8ZM1485.8,818.9 1489.7,817.9 1492.6,813.1 1495.5,808.2 1499.4,804.3 1500.3,799.5 1495.5,801.4 1490.6,799.5 1488.7,794.6 1485.8,795.6 1482.9,791.7 1480.9,786.8 1478,783.9 1479.9,790.7 1482.9,796.5 1485.8,800.4 1484.8,804.3 1481.9,808.2 1484.8,810.2 1486.7,814ZM1374,815 1369.1,816 1370.1,820.8 1372.6,825.7 1375.9,829.6 1379.8,826.7 1382.7,821.8 1383.7,815.6 1378.8,817ZM1478,827.6 1480.9,822.8 1482.9,817 1479,815 1476,818.9 1472.2,824.7 1467.3,829.6 1461.5,832.5 1456.6,837.4 1453.7,842.2 1457.6,849.6 1459.5,849 1458.6,847.1 1462.4,846.1 1467.3,843.2 1471.2,838.3 1474.1,832.5Z"/>
<path id="lakes" d=""/>
</defs>
<g filter="url(#sb)" fill-rule="evenodd">
<g fill="url(#sgB)">
<use href="#land" transform="translate(195.4,152.7)" opacity="0.0002"/>
<use href="#land" transform="translate(192.3,150.2)" opacity="0.0004"/>
<use href="#land" transform="translate(189.1,147.8)" opacity="0.0007"/>
<use href="#land" transform="translate(186.0,145.3)" opacity="0.0009"/>
<use href="#land" transform="translate(182.8,142.8)" opacity="0.0011"/>
<use href="#land" transform="translate(179.7,140.4)" opacity="0.0013"/>
<use href="#land" transform="translate(176.5,137.9)" opacity="0.0016"/>
<use href="#land" transform="translate(173.4,135.4)" opacity="0.0018"/>
<use href="#land" transform="translate(170.2,133.0)" opacity="0.0020"/>
<use href="#land" transform="translate(167.1,130.5)" opacity="0.0022"/>
<use href="#land" transform="translate(163.9,128.1)" opacity="0.0025"/>
<use href="#land" transform="translate(160.8,125.6)" opacity="0.0027"/>
<use href="#land" transform="translate(157.6,123.1)" opacity="0.0029"/>
<use href="#land" transform="translate(154.5,120.7)" opacity="0.0031"/>
<use href="#land" transform="translate(151.3,118.2)" opacity="0.0034"/>
<use href="#land" transform="translate(148.1,115.7)" opacity="0.0036"/>
<use href="#land" transform="translate(145.0,113.3)" opacity="0.0038"/>
<use href="#land" transform="translate(141.8,110.8)" opacity="0.0040"/>
<use href="#land" transform="translate(138.7,108.4)" opacity="0.0043"/>
<use href="#land" transform="translate(135.5,105.9)" opacity="0.0045"/>
<use href="#land" transform="translate(132.4,103.4)" opacity="0.0047"/>
<use href="#land" transform="translate(129.2,101.0)" opacity="0.0049"/>
<use href="#land" transform="translate(126.1,98.5)" opacity="0.0052"/>
<use href="#land" transform="translate(122.9,96.0)" opacity="0.0054"/>
<use href="#land" transform="translate(119.8,93.6)" opacity="0.0056"/>
<use href="#land" transform="translate(116.6,91.1)" opacity="0.0058"/>
<use href="#land" transform="translate(113.5,88.7)" opacity="0.0060"/>
<use href="#land" transform="translate(110.3,86.2)" opacity="0.0063"/>
<use href="#land" transform="translate(107.2,83.7)" opacity="0.0065"/>
<use href="#land" transform="translate(104.0,81.3)" opacity="0.0067"/>
<use href="#land" transform="translate(100.9,78.8)" opacity="0.0069"/>
<use href="#land" transform="translate(97.7,76.3)" opacity="0.0072"/>
<use href="#land" transform="translate(94.6,73.9)" opacity="0.0074"/>
<use href="#land" transform="translate(91.4,71.4)" opacity="0.0076"/>
<use href="#land" transform="translate(88.3,69.0)" opacity="0.0078"/>
<use href="#land" transform="translate(85.1,66.5)" opacity="0.0081"/>
<use href="#land" transform="translate(82.0,64.0)" opacity="0.0083"/>
<use href="#land" transform="translate(78.8,61.6)" opacity="0.0085"/>
<use href="#land" transform="translate(75.6,59.1)" opacity="0.0087"/>
<use href="#land" transform="translate(72.5,56.6)" opacity="0.0090"/>
<use href="#land" transform="translate(69.3,54.2)" opacity="0.0092"/>
<use href="#land" transform="translate(66.2,51.7)" opacity="0.0094"/>
<use href="#land" transform="translate(63.0,49.3)" opacity="0.0096"/>
<use href="#land" transform="translate(59.9,46.8)" opacity="0.0099"/>
<use href="#land" transform="translate(56.7,44.3)" opacity="0.0101"/>
<use href="#land" transform="translate(53.6,41.9)" opacity="0.0103"/>
<use href="#land" transform="translate(50.4,39.4)" opacity="0.0105"/>
<use href="#land" transform="translate(47.3,36.9)" opacity="0.0108"/>
<use href="#land" transform="translate(44.1,34.5)" opacity="0.0110"/>
<use href="#land" transform="translate(41.0,32.0)" opacity="0.0112"/>
<use href="#land" transform="translate(37.8,29.6)" opacity="0.0114"/>
<use href="#land" transform="translate(34.7,27.1)" opacity="0.0116"/>
<use href="#land" transform="translate(31.5,24.6)" opacity="0.0119"/>
<use href="#land" transform="translate(28.4,22.2)" opacity="0.0121"/>
<use href="#land" transform="translate(25.2,19.7)" opacity="0.0123"/>
<use href="#land" transform="translate(22.1,17.2)" opacity="0.0125"/>
<use href="#land" transform="translate(18.9,14.8)" opacity="0.0128"/>
<use href="#land" transform="translate(15.8,12.3)" opacity="0.0130"/>
<use href="#land" transform="translate(12.6,9.9)" opacity="0.0132"/>
<use href="#land" transform="translate(9.5,7.4)" opacity="0.0134"/>
<use href="#land" transform="translate(6.3,4.9)" opacity="0.0137"/>
<use href="#land" transform="translate(3.2,2.5)" opacity="0.0139"/>
</g>
<g fill="url(#sgA)">
<use href="#land" transform="translate(55.2,43.1)" opacity="0.0006"/>
<use href="#land" transform="translate(53.6,41.9)" opacity="0.0017"/>
<use href="#land" transform="translate(52.0,40.6)" opacity="0.0029"/>
<use href="#land" transform="translate(50.4,39.4)" opacity="0.0041"/>
<use href="#land" transform="translate(48.9,38.2)" opacity="0.0052"/>
<use href="#land" transform="translate(47.3,36.9)" opacity="0.0064"/>
<use href="#land" transform="translate(45.7,35.7)" opacity="0.0075"/>
<use href="#land" transform="translate(44.1,34.5)" opacity="0.0087"/>
<use href="#land" transform="translate(42.6,33.2)" opacity="0.0099"/>
<use href="#land" transform="translate(41.0,32.0)" opacity="0.0110"/>
<use href="#land" transform="translate(39.4,30.8)" opacity="0.0122"/>
<use href="#land" transform="translate(37.8,29.6)" opacity="0.0133"/>
<use href="#land" transform="translate(36.2,28.3)" opacity="0.0145"/>
<use href="#land" transform="translate(34.7,27.1)" opacity="0.0157"/>
<use href="#land" transform="translate(33.1,25.9)" opacity="0.0168"/>
<use href="#land" transform="translate(31.5,24.6)" opacity="0.0180"/>
<use href="#land" transform="translate(29.9,23.4)" opacity="0.0191"/>
<use href="#land" transform="translate(28.4,22.2)" opacity="0.0203"/>
<use href="#land" transform="translate(26.8,20.9)" opacity="0.0215"/>
<use href="#land" transform="translate(25.2,19.7)" opacity="0.0226"/>
<use href="#land" transform="translate(23.6,18.5)" opacity="0.0238"/>
<use href="#land" transform="translate(22.1,17.2)" opacity="0.0249"/>
<use href="#land" transform="translate(20.5,16.0)" opacity="0.0261"/>
<use href="#land" transform="translate(18.9,14.8)" opacity="0.0273"/>
<use href="#land" transform="translate(17.3,13.5)" opacity="0.0284"/>
<use href="#land" transform="translate(15.8,12.3)" opacity="0.0296"/>
<use href="#land" transform="translate(14.2,11.1)" opacity="0.0307"/>
<use href="#land" transform="translate(12.6,9.9)" opacity="0.0319"/>
<use href="#land" transform="translate(11.0,8.6)" opacity="0.0331"/>
<use href="#land" transform="translate(9.5,7.4)" opacity="0.0342"/>
<use href="#land" transform="translate(7.9,6.2)" opacity="0.0354"/>
<use href="#land" transform="translate(6.3,4.9)" opacity="0.0365"/>
<use href="#land" transform="translate(4.7,3.7)" opacity="0.0377"/>
<use href="#land" transform="translate(3.2,2.5)" opacity="0.0389"/>
<use href="#land" transform="translate(1.6,1.2)" opacity="0.0400"/>
</g>
</g>
<use href="#land" fill="url(#mg)" fill-rule="evenodd"/>
<circle cx="676.3" cy="62.4" r="28.7" fill="#ee5f78" fill-opacity="0.14"/>
<path d="M676.3,94.8Q667.0,85.3 660.6,75.9A20.4,20.4 0 1 1 692.0,75.9Q685.6,85.3 676.3,94.8Z" fill="url(#pg)" stroke="url(#pg)" stroke-width="0.5" stroke-linejoin="round"/>
<circle cx="676.3" cy="62.9" r="15.4" fill="#fff"/>
<circle cx="676.3" cy="63.2" r="10.8" fill="#f3910f"/>
<g transform="translate(676.3,63.2) scale(0.580) translate(-12,-12)" fill="none" stroke="#fff" stroke-opacity="0.9" stroke-width="1.55" stroke-linecap="round" stroke-linejoin="round"><path d="M10 13a5 5 0 0 0 7.54.54l3-3a5 5 0 0 0-7.07-7.07l-1.72 1.71"/><path d="M14 11a5 5 0 0 0-7.54-.54l-3 3a5 5 0 0 0 7.07 7.07l1.71-1.71"/></g>
<circle cx="379.6" cy="400.6" r="41.6" fill="#ee5f78" fill-opacity="0.14"/>
<path d="M379.6,447.4Q366.1,433.5 356.9,419.9A29.5,29.5 0 1 1 402.3,419.9Q393.1,433.5 379.6,447.4Z" fill="url(#pg)" stroke="url(#pg)" stroke-width="0.5" stroke-linejoin="round"/>
<circle cx="379.6" cy="401.1" r="22.3" fill="#fff"/>
<circle cx="379.6" cy="401.4" r="15.6" fill="#f3910f"/>
<g transform="translate(379.6,401.4) scale(1.000)" fill="none" stroke="#fff" stroke-opacity="0.85" stroke-width="0.95" stroke-linecap="round" stroke-linejoin="round"><path d="M-8.4,-5.6Q-8.4,-7.6 -6.4,-7.6H6.2Q8.2,-7.6 8.2,-5.6V7H-8.4Z"/><path d="M-3.9,-2.6Q-3.9,0.4 0,0.4Q3.9,0.4 3.9,-2.6"/></g>
<circle cx="897.0" cy="634.8" r="41.6" fill="#ee5f78" fill-opacity="0.14"/>
<path d="M897.0,681.6Q883.5,667.7 874.3,654.1A29.5,29.5 0 1 1 919.7,654.1Q910.5,667.7 897.0,681.6Z" fill="url(#pg)" stroke="url(#pg)" stroke-width="0.5" stroke-linejoin="round"/>
<circle cx="897.0" cy="635.3" r="22.3" fill="#fff"/>
<circle cx="897.0" cy="635.6" r="15.6" fill="#f3910f"/>
<g transform="translate(897.0,635.6) scale(1.000)" fill="none" stroke="#fff" stroke-opacity="0.85" stroke-width="0.95" stroke-linecap="round" stroke-linejoin="round"><path d="M-8.4,-5.6Q-8.4,-7.6 -6.4,-7.6H6.2Q8.2,-7.6 8.2,-5.6V7H-8.4Z"/><path d="M-3.9,-2.6Q-3.9,0.4 0,0.4Q3.9,0.4 3.9,-2.6"/></g>
<circle cx="1127.5" cy="259.2" r="52.9" fill="#ee5f78" fill-opacity="0.14"/>
<path d="M1127.5,318.6Q1110.3,300.9 1098.6,283.6A37.5,37.5 0 1 1 1156.4,283.6Q1144.7,300.9 1127.5,318.6Z" fill="url(#pg)" stroke="url(#pg)" stroke-width="0.5" stroke-linejoin="round"/>
<circle cx="1127.5" cy="259.7" r="28.4" fill="#fff"/>
<circle cx="1127.5" cy="260.0" r="19.9" fill="#f3910f"/>
<defs><clipPath id="bioc"><circle cx="0.00" cy="-15.00" r="10.6"/><circle cx="-12.99" cy="7.50" r="10.6"/><circle cx="12.99" cy="7.50" r="10.6"/></clipPath><mask id="biom" maskUnits="userSpaceOnUse" x="-30" y="-30" width="60" height="60"><rect x="-30" y="-30" width="60" height="60" fill="#000"/><g fill="#fff"><circle cx="0.00" cy="-11.00" r="15"/><circle cx="-9.53" cy="5.50" r="15"/><circle cx="9.53" cy="5.50" r="15"/></g><g fill="#000"><circle cx="0.00" cy="-15.00" r="10.6"/><circle cx="-12.99" cy="7.50" r="10.6"/><circle cx="12.99" cy="7.50" r="10.6"/></g><g clip-path="url(#bioc)"><circle r="11.6" fill="none" stroke="#fff" stroke-width="3.4"/></g><circle r="3" fill="#000"/><g stroke="#000" stroke-width="1.3"><line x1="0" y1="0" x2="0.00" y2="-12.00"/><line x1="0" y1="0" x2="-10.39" y2="6.00"/><line x1="0" y1="0" x2="10.39" y2="6.00"/></g></mask></defs>
<g transform="translate(1127.60,261.80) scale(0.5750)"><rect x="-30" y="-30" width="60" height="60" fill="#fff" fill-opacity="0.96" mask="url(#biom)"/></g>
<!-- tooltip 1 -->
<rect x="350" y="500" width="221" height="78" rx="6" fill="#ec2d8c" opacity="0.45" filter="url(#g1)"/>
<path d="M356.9,474.9H371.6L377.3,463.3L383.4,474.9H565.1a5.6,5.6 0 0 1 5.6,5.6V547a5.6,5.6 0 0 1 -5.6,5.6H356.9a5.6,5.6 0 0 1 -5.6,-5.6V480.5a5.6,5.6 0 0 1 5.6,-5.6Z" fill="#000" stroke="url(#tg)" stroke-width="1.6" stroke-linejoin="round"/>
<g clip-path="url(#av1)"><use href="#avatar" transform="translate(394.0,499.6)"/></g>
<text opacity="0.999" text-rendering="geometricPrecision" x="418.6" y="504.8" font-family="Liberation Sans, sans-serif" font-size="17.6" fill="#565656" letter-spacing="0.4">Nick Walter</text>
<text opacity="0.999" text-rendering="geometricPrecision" x="379.4" y="532.7" font-family="Liberation Sans, sans-serif" font-size="17" fill="#8e8e8e" letter-spacing="0.8">Its dangerous</text>
<!-- tooltip 2 -->
<rect x="1100" y="373" width="218" height="76" rx="6" fill="#f7931e" opacity="1" filter="url(#g2)"/>
<path d="M1105.4,348.2H1119.4L1124.9,336.4L1130.9,348.2H1311.6a5.6,5.6 0 0 1 5.6,5.6V418.2a5.6,5.6 0 0 1 -5.6,5.6H1105.4a5.6,5.6 0 0 1 -5.6,-5.6V353.8a5.6,5.6 0 0 1 5.6,-5.6Z" fill="#000" stroke="url(#tg)" stroke-width="1.6" stroke-linejoin="round"/>
<g clip-path="url(#av2)"><use href="#avatar" transform="translate(1141.7,372.3)"/></g>
<text opacity="0.999" text-rendering="geometricPrecision" x="1160" y="377.2" font-family="Liberation Sans, sans-serif" font-size="17.6" fill="#565656" letter-spacing="0.8">John</text>
<text opacity="0.999" text-rendering="geometricPrecision" x="1126.8" y="405.6" font-family="Liberation Sans, sans-serif" font-size="17" fill="#8e8e8e" letter-spacing="0.8">Its dangerous</text>
</svg>
</body></html>
